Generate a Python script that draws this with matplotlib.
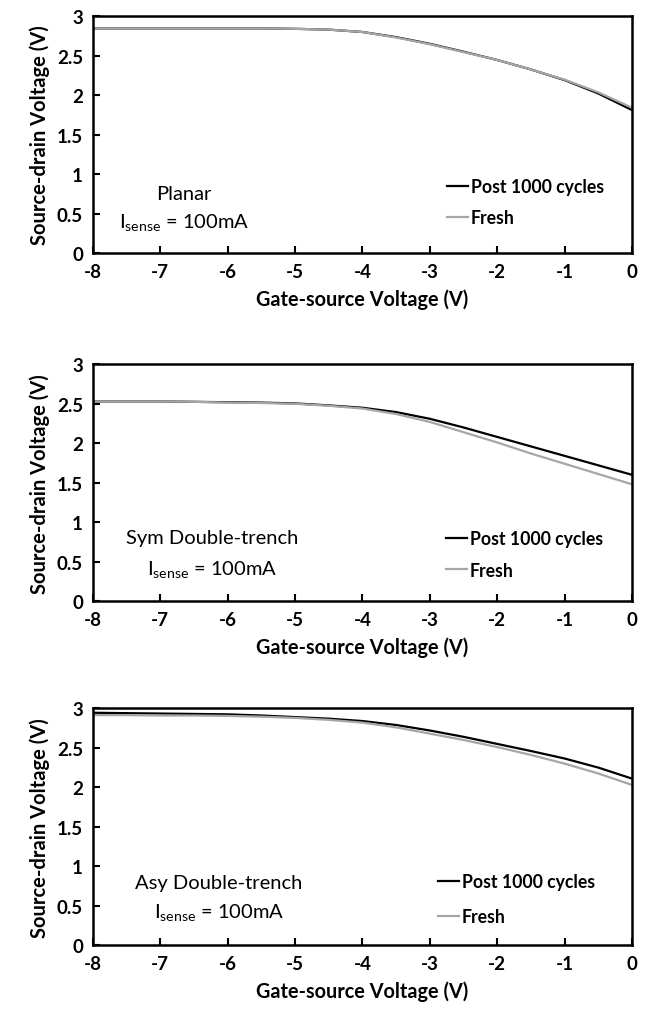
import matplotlib
matplotlib.use("Agg")
import matplotlib.pyplot as plt

plt.rcParams['font.family'] = ['Lato', 'DejaVu Sans']
plt.rcParams['mathtext.default'] = 'regular'

# gate-source voltage (V)
vgs = [-8, -7.5, -7, -6.5, -6, -5.5, -5, -4.5, -4, -3.5, -3, -2.5, -2, -1.5, -1, -0.5, 0]

# Planar
planar_post = [2.845, 2.845, 2.845, 2.845, 2.845, 2.845, 2.84, 2.83, 2.80, 2.735, 2.65,
               2.55, 2.445, 2.325, 2.19, 2.02, 1.81]
planar_fresh = [2.845, 2.845, 2.845, 2.845, 2.845, 2.845, 2.84, 2.83, 2.80, 2.73, 2.645,
                2.545, 2.445, 2.325, 2.195, 2.035, 1.84]

# Sym double-trench
sym_post = [2.53, 2.53, 2.53, 2.525, 2.52, 2.515, 2.505, 2.48, 2.45, 2.395, 2.31,
            2.20, 2.08, 1.96, 1.84, 1.72, 1.60]
sym_fresh = [2.53, 2.53, 2.53, 2.525, 2.515, 2.51, 2.50, 2.475, 2.44, 2.37, 2.27,
             2.14, 2.01, 1.87, 1.74, 1.61, 1.48]

# Asy double-trench
asy_post = [2.945, 2.94, 2.935, 2.93, 2.925, 2.91, 2.89, 2.87, 2.84, 2.79, 2.72,
            2.64, 2.55, 2.46, 2.365, 2.25, 2.11]
asy_fresh = [2.915, 2.915, 2.91, 2.91, 2.905, 2.895, 2.88, 2.855, 2.82, 2.76, 2.68,
             2.60, 2.51, 2.41, 2.30, 2.175, 2.03]

names = ["Planar", "Sym Double-trench", "Asy Double-trench"]
posts = [planar_post, sym_post, asy_post]
freshes = [planar_fresh, sym_fresh, asy_fresh]

xticks = [-8, -7, -6, -5, -4, -3, -2, -1, 0]
yticks = [0, 0.5, 1, 1.5, 2, 2.5, 3]

fig = plt.figure(figsize=(6.49, 10.12), dpi=100)

boxes = [0.749, 0.405, 0.065]
leg_pos = [(0.657, 0.215), (0.655, 0.197), (0.64, 0.195)]
name_pos = [(-6.65, 0.76, 0.40), (-6.23, 0.81, 0.41), (-6.13, 0.79, 0.43)]
spacing = [0.8, 0.8, 1.0]

for i in range(3):
    ax = fig.add_axes([0.143, boxes[i], 0.831, 0.234])
    ax.plot(vgs, posts[i], color='black', lw=1.6, label='Post 1000 cycles')
    ax.plot(vgs, freshes[i], color='#a6a6a6', lw=1.6, label='Fresh')
    ax.set_xlim(-8, 0)
    ax.set_ylim(0, 3)
    ax.set_xticks(xticks)
    ax.set_yticks(yticks)
    ax.set_xticklabels([str(t) for t in xticks])
    ax.set_yticklabels(['0', '0.5', '1', '1.5', '2', '2.5', '3'])
    for s in ax.spines.values():
        s.set_linewidth(1.8)
    ax.tick_params(direction='in', length=5, width=1.5, labelsize=13.5, pad=7)
    for lab in ax.get_xticklabels() + ax.get_yticklabels():
        lab.set_fontweight('bold')
    ax.set_xlabel('Gate-source Voltage (V)', fontsize=14.3, fontweight='bold', labelpad=6)
    ax.set_ylabel('Source-drain Voltage (V)', fontsize=14.5, fontweight='bold', labelpad=5)

    nx, ny1, ny2 = name_pos[i]
    ax.text(nx, ny1, names[i], fontsize=14.5, ha='center', va='center')
    ax.text(nx, ny2, 'I$_{sense}$ = 100mA', fontsize=14.5, ha='center', va='center')

    leg = ax.legend(loc='center left', bbox_to_anchor=leg_pos[i], frameon=False,
                    borderpad=0, borderaxespad=0, handlelength=1.2, handletextpad=0.15,
                    labelspacing=spacing[i], prop={'weight': 'bold', 'size': 12.7})

fig.savefig('out.png', dpi=100)
